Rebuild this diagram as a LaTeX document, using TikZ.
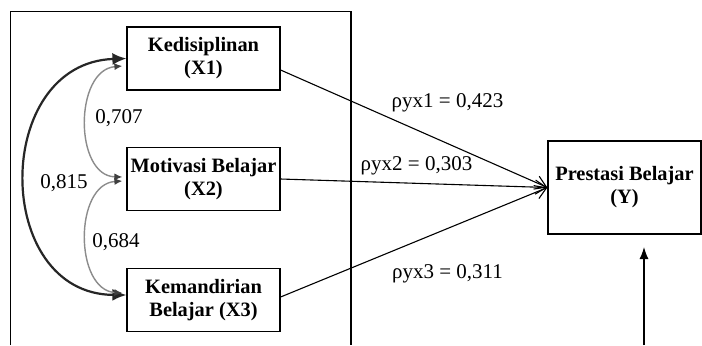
\documentclass[tikz,border=0pt]{standalone}
\usepackage{fontspec}
\setmainfont{Liberation Serif}
\usetikzlibrary{arrows.meta,calc}
\begin{document}
\begin{tikzpicture}[x=0.5pt,y=-0.5pt,
  var/.style={draw,line width=0.6pt,minimum width=76.5pt,minimum height=31.5pt,align=center,
    font=\fontsize{10.2}{11.5}\selectfont\bfseries,inner sep=0pt},
  lbl/.style={font=\fontsize{10.5}{12}\selectfont,inner sep=0pt,anchor=base},
  pathline/.style={line width=0.55pt,-{Straight Barb[length=5.5pt,width=7pt]}},
  corrblack/.style={line width=1.1pt,black!85,{Latex[length=7pt,width=6pt]}-{Latex[length=7pt,width=6pt]}},
  corrgray/.style={line width=0.7pt,black!45,{Latex[length=4pt,width=3.5pt,color=black!75]}-{Latex[length=4pt,width=3.5pt,color=black!75]}},
  frame/.style={line width=0.6pt}
]
\useasboundingbox (0,0) rectangle (702,345);
\fill[white] (0,0) rectangle (702,345);
% outer frame
\draw[frame] (10.5,345) -- (10.5,11.5) -- (351,11.5) -- (351,345);
% variables
\node[var] (x1) at (203.5,58.5) {Kedisiplinan\\(X1)};
\node[var] (x2) at (203.5,179) {Motivasi Belajar\\(X2)};
\node[var] (x3) at (203.5,300) {Kemandirian\\Belajar (X3)};
\node[var,minimum height=46.5pt] (y) at (624.5,187.5) {Prestasi Belajar\\(Y)};
% paths
\draw[pathline] ([yshift=-5.75pt]x1.east) -- (y.west);
\draw[pathline] (x2.east) -- (y.west);
\draw[pathline] ([yshift=1.5pt]x3.east) -- (y.west);
% residual arrow
\coordinate (ybot) at (644,345);
\coordinate (ytip) at (644,247);
\draw[frame,-{Latex[length=6pt,width=4.5pt]}] (ybot) -- (ytip);
% correlations
\draw[corrblack] (x1.west) .. controls (-8,63) and (-8,294) .. ([yshift=2.5pt]x3.west);
\draw[corrgray] ([xshift=-2pt,yshift=-3.75pt]x1.west) .. controls (74,70) and (74,176) .. ([xshift=-2pt,yshift=1pt]x2.west);
\draw[corrgray] ([xshift=-2pt,yshift=-1pt]x2.west) .. controls (74,184) and (74,290) .. ([xshift=-2pt,yshift=3.5pt]x3.west);
% labels
\node[lbl] (c707) at (119,123) {0,707};
\node[lbl] (c815) at (64,188) {0,815};
\node[lbl] (c684) at (116,247) {0,684};
\node[lbl] (p1) at (447.5,107) {ρyx1 = 0,423};
\node[lbl] (p2) at (416.5,170) {ρyx2 = 0,303};
\node[lbl] (p3) at (447.5,278) {ρyx3 = 0,311};
\end{tikzpicture}
\end{document}
